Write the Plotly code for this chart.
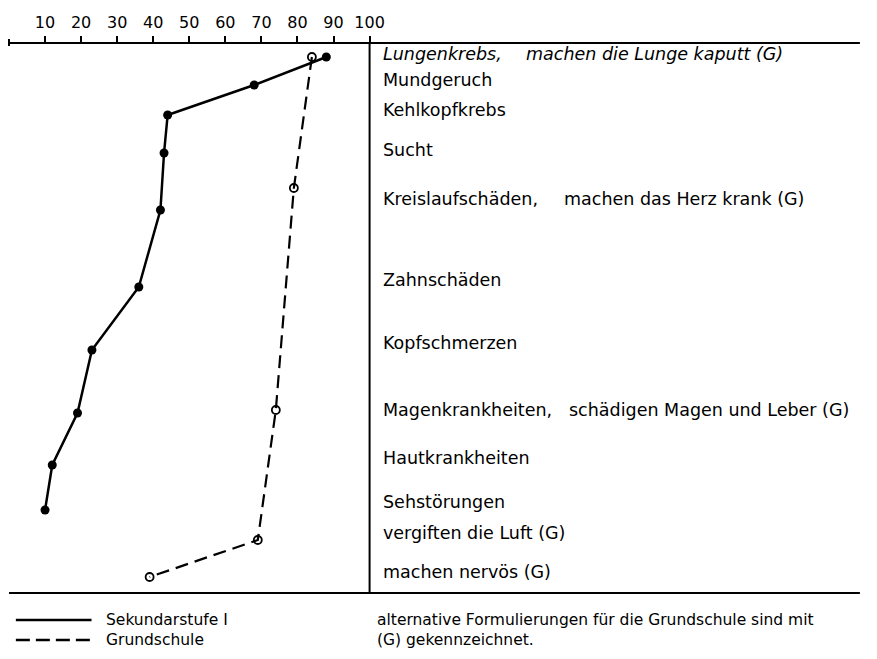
import plotly.graph_objects as go

# page is 877x659; the browser body adds an 8px margin, so the figure is kept smaller
PAGE_OFF = 8
W, H = 877 - 2 * PAGE_OFF, 659 - 2 * PAGE_OFF

# ---- data ----
categories = ["Lungenkrebs,", "Mundgeruch", "Kehlkopfkrebs", "Sucht", "Kreislaufschäden,",
              "Zahnschäden", "Kopfschmerzen", "Magenkrankheiten,", "Hautkrankheiten",
              "Sehstörungen", "vergiften die Luft (G)", "machen nervös (G)"]
# vertical row position of each category (0 = top of chart, 550 = bottom)
row_y = [11, 37, 67, 107, 156, 237, 300, 367, 415, 459, 490, 529]

alt_labels = {0: "machen die Lunge kaputt (G)", 4: "machen das Herz krank (G)",
              7: "schädigen Magen und Leber (G)"}

sek_values = [88, 68, 44, 43, 42, 36, 23, 19, 12, 10]
sek_y = [14, 42, 72, 110, 167, 244, 307, 370, 422, 467]

grund_values = [84, 79, 74, 69, 39]
grund_y = [14, 145, 367, 497, 534]

x_ticks = [10, 20, 30, 40, 50, 60, 70, 80, 90, 100]

legend_names = ["Sekundarstufe I", "Grundschule"]
note_lines = ["alternative Formulierungen für die Grundschule sind mit", "(G) gekennzeichnet."]

# ---- geometry (page pixels) ----
X0, X100 = 9, 376
TOP, BOT = 43, 593
RIGHT = 875
px = lambda v: (v - PAGE_OFF) / W
py = lambda v: 1 - (v - PAGE_OFF) / H

FONT = "DejaVu Sans"
LBL = 17.5

fig = go.Figure()

fig.add_trace(go.Scatter(
    x=sek_values, y=sek_y, mode="lines+markers", name=legend_names[0],
    line=dict(color="black", width=2.5),
    marker=dict(symbol="circle", size=9, color="black"),
    showlegend=False, cliponaxis=False))

fig.add_trace(go.Scatter(
    x=grund_values, y=grund_y, mode="lines+markers", name=legend_names[1],
    line=dict(color="black", width=2.2, dash="13px,7px"),
    marker=dict(symbol="circle-open", size=8, color="black", line=dict(width=1.8)),
    showlegend=False, cliponaxis=False))

shapes = []
shapes.append(dict(type="line", xref="paper", yref="paper", x0=px(X0), x1=px(RIGHT),
                   y0=py(TOP), y1=py(TOP), line=dict(color="black", width=2)))
shapes.append(dict(type="line", xref="paper", yref="paper", x0=px(X0), x1=px(RIGHT),
                   y0=py(BOT), y1=py(BOT), line=dict(color="black", width=2)))
shapes.append(dict(type="line", xref="paper", yref="paper", x0=px(X100), x1=px(X100),
                   y0=py(TOP), y1=py(BOT), line=dict(color="black", width=2)))
shapes.append(dict(type="line", xref="paper", yref="paper", x0=px(X0), x1=px(X0),
                   y0=py(TOP - 4), y1=py(TOP + 3), line=dict(color="black", width=2)))

# legend samples
shapes.append(dict(type="line", xref="paper", yref="paper", x0=px(16), x1=px(93),
                   y0=py(620), y1=py(620), line=dict(color="black", width=2.5)))
shapes.append(dict(type="line", xref="paper", yref="paper", x0=px(16), x1=px(93),
                   y0=py(640), y1=py(640), line=dict(color="black", width=2.5, dash="14px,6px")))

annotations = []
for i, (lab, yy) in enumerate(zip(categories, row_y)):
    txt = f"<i>{lab}</i>" if i == 0 else lab
    annotations.append(dict(text=txt, xref="paper", yref="y", x=px(388), y=yy,
                            xanchor="left", yanchor="middle", showarrow=False,
                            font=dict(family=FONT, size=LBL, color="black")))
alt_x = {0: 533, 4: 572, 7: 577}
for i, lab in alt_labels.items():
    txt = f"<i>{lab}</i>" if i == 0 else lab
    annotations.append(dict(text=txt, xref="paper", yref="y", x=px(alt_x[i]), y=row_y[i],
                            xanchor="left", yanchor="middle", showarrow=False,
                            font=dict(family=FONT, size=LBL, color="black")))

for lines, x in [(legend_names, 107), (note_lines, 383)]:
    annotations.append(dict(text="<br>".join(lines), xref="paper", yref="paper",
                            x=px(x), y=py(629.5), xanchor="left", yanchor="middle",
                            align="left", showarrow=False, borderpad=0,
                            font=dict(family=FONT, size=15.5, color="black")))

fig.update_layout(
    width=W, height=H,
    margin=dict(l=0, r=0, t=0, b=0),
    paper_bgcolor="white", plot_bgcolor="white",
    showlegend=False,
    xaxis=dict(domain=[px(X0), px(X100)], range=[0, 100], side="top",
               tickvals=x_ticks, ticks="outside", ticklen=6, tickwidth=2, tickcolor="black",
               ticklabelstandoff=2,
               showline=False, showgrid=False, zeroline=False,
               tickfont=dict(family=FONT, size=16, color="black")),
    yaxis=dict(domain=[py(BOT), py(TOP)], range=[550, 0], visible=False,
               showgrid=False, zeroline=False),
    shapes=shapes, annotations=annotations,
)

fig.write_html("out.html")
